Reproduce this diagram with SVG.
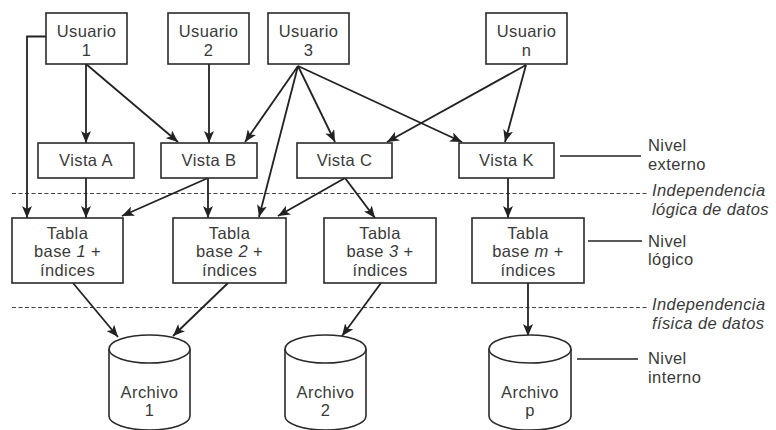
<svg xmlns="http://www.w3.org/2000/svg" width="776" height="430" viewBox="0 0 776 430">
<style>
.box{fill:#fff;stroke:#2a2a2a;stroke-width:1.6}
.t{font-family:"Liberation Sans",Arial,sans-serif;font-size:16.5px;letter-spacing:0.4px;fill:#3a3a3a;text-anchor:middle}
.lbl{font-family:"Liberation Sans",Arial,sans-serif;font-size:16.5px;letter-spacing:0.4px;fill:#3a3a3a}
.it{font-style:italic}
.c{fill:none;stroke:#222;stroke-width:1.8;marker-end:url(#ah)}
.pl{fill:none;stroke:#222;stroke-width:1.3}
.dash{stroke:#444;stroke-width:1.2;stroke-dasharray:4 2.5}
</style>
<defs>
<marker id="ah" viewBox="0 0 12 10" refX="12" refY="5" markerWidth="12" markerHeight="10" markerUnits="userSpaceOnUse" orient="auto">
<path d="M0,0 L12,5 L0,10 L3,5 Z" fill="#222"/>
</marker>
</defs>
<rect width="776" height="430" fill="#fff"/>

<g id="levels">
<line class="dash" x1="12" y1="193.5" x2="647" y2="193.5"/>
<line class="dash" x1="12" y1="307.5" x2="647" y2="307.5"/>
<line class="pl" x1="560" y1="156" x2="641" y2="156"/>
<line class="pl" x1="588" y1="241" x2="642" y2="241"/>
<line class="pl" x1="577" y1="359" x2="638" y2="359"/>
<text class="lbl" x="648" y="151">Nivel</text>
<text class="lbl" x="648" y="170">externo</text>
<text class="lbl it" x="652" y="196">Independencia</text>
<text class="lbl it" x="652" y="214.5">lógica de datos</text>
<text class="lbl" x="648" y="247">Nivel</text>
<text class="lbl" x="648" y="265">lógico</text>
<text class="lbl it" x="652" y="310">Independencia</text>
<text class="lbl it" x="652" y="328.5">física de datos</text>
<text class="lbl" x="648" y="364">Nivel</text>
<text class="lbl" x="648" y="382.5">interno</text>
</g>

<g id="connectors">
<path class="c" d="M86,64 L86,143"/>
<path class="c" d="M86,64 L178,142"/>
<path class="c" d="M209,64 L209,143"/>
<path class="c" d="M298,66 L245,142"/>
<path class="c" d="M298,66 L259,217"/>
<path class="c" d="M298,66 L335,142"/>
<path class="c" d="M298,66 L462,142"/>
<path class="c" d="M526,65 L387,142"/>
<path class="c" d="M526,65 L505,142"/>
<path class="c" d="M46,36.5 L27,36.5 L27,218"/>
<path class="c" d="M86,178 L86,218"/>
<path class="c" d="M208,178 L122,216"/>
<path class="c" d="M208,178 L208,218"/>
<path class="c" d="M345,178 L278,216"/>
<path class="c" d="M345,178 L375,218"/>
<path class="c" d="M508,178 L508,218"/>
<path class="c" d="M73,283 L118,337"/>
<path class="c" d="M228,283 L173,336"/>
<path class="c" d="M381,283 L342,336"/>
<path class="c" d="M528,283 L528,336"/>
</g>

<g id="usuario1"><rect class="box" x="46" y="13" width="81" height="51"/><text class="t" x="86.5" y="37">Usuario</text><text class="t" x="86.5" y="56">1</text></g>
<g id="usuario2"><rect class="box" x="168" y="13" width="81" height="51"/><text class="t" x="208.5" y="37">Usuario</text><text class="t" x="208.5" y="56">2</text></g>
<g id="usuario3"><rect class="box" x="268" y="13" width="81" height="51"/><text class="t" x="308.5" y="37">Usuario</text><text class="t" x="308.5" y="56">3</text></g>
<g id="usuarion"><rect class="box" x="486" y="13" width="81" height="51"/><text class="t" x="526.5" y="37">Usuario</text><text class="t" x="526.5" y="56">n</text></g>

<g id="vistaA"><rect class="box" x="38" y="143" width="96" height="35"/><text class="t" x="86" y="166">Vista A</text></g>
<g id="vistaB"><rect class="box" x="161" y="143" width="96" height="35"/><text class="t" x="209" y="166">Vista B</text></g>
<g id="vistaC"><rect class="box" x="297" y="143" width="95" height="35"/><text class="t" x="344.5" y="166">Vista C</text></g>
<g id="vistaK"><rect class="box" x="459" y="143" width="95" height="35"/><text class="t" x="506.5" y="166">Vista K</text></g>

<g id="tabla1"><rect class="box" x="12" y="218" width="111" height="65"/><text class="t" x="67.5" y="239">Tabla</text><text class="t" x="67.5" y="257">base <tspan class="it">1</tspan> +</text><text class="t" x="67.5" y="276">índices</text></g>
<g id="tabla2"><rect class="box" x="173" y="218" width="113" height="65"/><text class="t" x="229.5" y="239">Tabla</text><text class="t" x="229.5" y="257">base <tspan class="it">2</tspan> +</text><text class="t" x="229.5" y="276">índices</text></g>
<g id="tabla3"><rect class="box" x="324" y="218" width="112" height="65"/><text class="t" x="380" y="239">Tabla</text><text class="t" x="380" y="257">base <tspan class="it">3</tspan> +</text><text class="t" x="380" y="276">índices</text></g>
<g id="tablam"><rect class="box" x="472" y="218" width="112" height="65"/><text class="t" x="528" y="239">Tabla</text><text class="t" x="528" y="257">base <tspan class="it">m</tspan> +</text><text class="t" x="528" y="276">índices</text></g>

<g id="archivo1"><path class="box" d="M109,349 L109,416 A40.5,14 0 0 0 190,416 L190,349"/><ellipse class="box" cx="149.5" cy="349" rx="40.5" ry="14"/><text class="t" x="149.5" y="398">Archivo</text><text class="t" x="149.5" y="416">1</text></g>
<g id="archivo2"><path class="box" d="M285,349 L285,416 A40.5,14 0 0 0 366,416 L366,349"/><ellipse class="box" cx="325.5" cy="349" rx="40.5" ry="14"/><text class="t" x="325.5" y="398">Archivo</text><text class="t" x="325.5" y="416">2</text></g>
<g id="archivop"><path class="box" d="M489,349 L489,416 A40.5,14 0 0 0 571,416 L571,349"/><ellipse class="box" cx="530" cy="349" rx="41" ry="14"/><text class="t" x="530" y="398">Archivo</text><text class="t" x="530" y="416">p</text></g>
</svg>
